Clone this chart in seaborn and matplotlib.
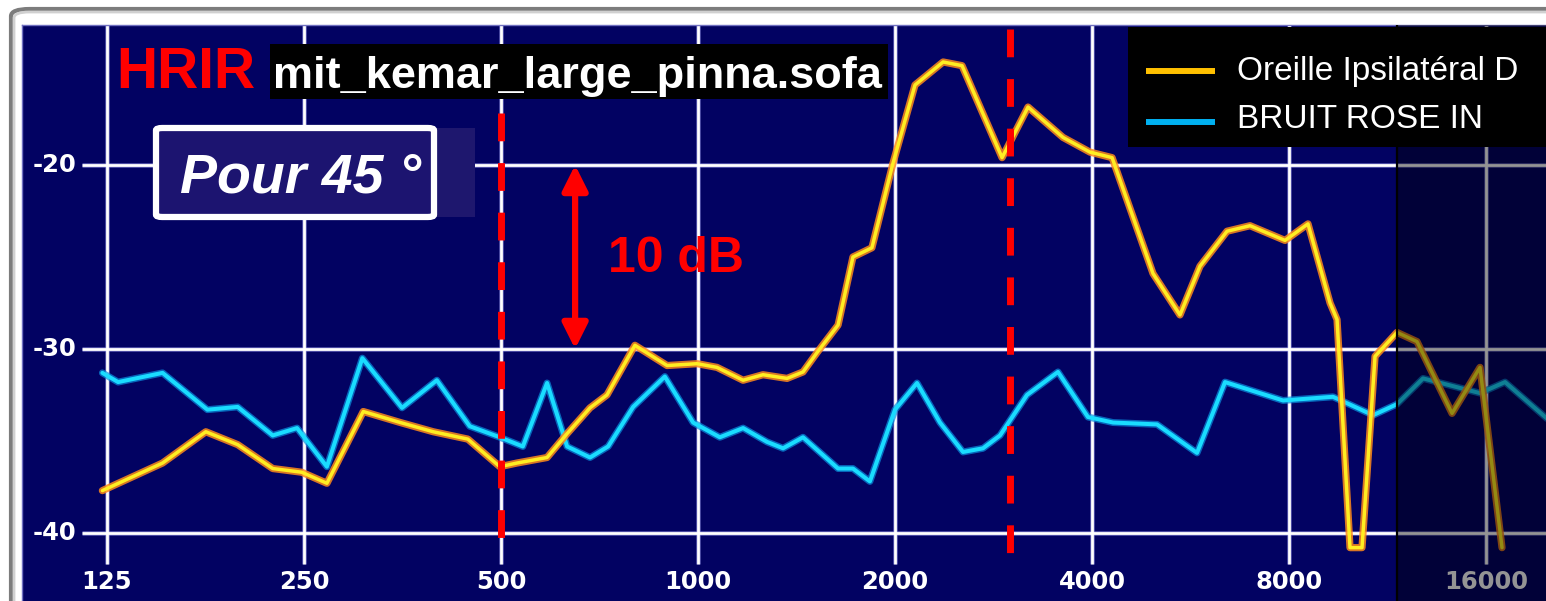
import numpy as np
import pandas as pd
import matplotlib
matplotlib.use('Agg')
import matplotlib.pyplot as plt
import seaborn as sns
from matplotlib.patches import Rectangle, FancyBboxPatch
from matplotlib.lines import Line2D

# Values (frequency in Hz, level in dB)
ipsi_freq = [123, 152, 177, 198, 224, 248, 271, 308, 351, 394, 445, 498, 529, 588,
             631, 684, 726, 801, 897, 997, 1069, 1172, 1257, 1368, 1447, 1520, 1637,
             1725, 1844, 1986, 2146, 2369, 2532, 2915, 3194, 3612, 3972, 4293, 4958,
             5451, 5849, 6433, 6975, 7889, 8553, 9243, 9473, 9915, 10343, 10828,
             11697, 12550, 14198, 15666, 16927]
ipsi_db = [-37.7, -36.2, -34.5, -35.2, -36.5, -36.7, -37.3, -33.4, -34.0, -34.5, -34.9,
           -36.4, -36.2, -35.9, -34.6, -33.2, -32.5, -29.8, -30.9, -30.8, -31.0, -31.7,
           -31.4, -31.6, -31.25, -30.2, -28.7, -25.0, -24.5, -19.9, -15.65, -14.4,
           -14.6, -19.6, -16.85, -18.5, -19.3, -19.6, -25.9, -28.15, -25.5, -23.6,
           -23.3, -24.1, -23.2, -27.5, -28.4, -40.8, -40.8, -30.4, -29.1, -29.6,
           -33.5, -31.0, -40.8]

noise_freq = [123, 130, 152, 178, 198, 224, 244, 271, 307, 353, 399, 448, 498, 540,
              588, 631, 684, 729, 796, 890, 983, 1080, 1172, 1275, 1349, 1447, 1637,
              1725, 1831, 2000, 2161, 2343, 2541, 2726, 2894, 3182, 3549, 3944, 4308,
              5028, 5788, 6388, 7833, 9340, 10752, 11697, 12820, 15666, 17109, 20760]
noise_db = [-31.3, -31.8, -31.3, -33.3, -33.15, -34.7, -34.3, -36.4, -30.5, -33.2,
            -31.7, -34.2, -34.8, -35.3, -31.85, -35.3, -35.9, -35.3, -33.15, -31.5,
            -34.0, -34.8, -34.3, -35.05, -35.4, -34.8, -36.5, -36.5, -37.2, -33.3,
            -31.85, -34.0, -35.6, -35.4, -34.7, -32.5, -31.25, -33.7, -34.0, -34.1,
            -35.65, -31.8, -32.8, -32.6, -33.6, -33.0, -31.6, -32.4, -31.8, -34.4]

xtick_values = [125, 250, 500, 1000, 2000, 4000, 8000, 16000]
ytick_values = [-20, -30, -40]
marker_freqs = [500, 3000]
series_labels = ['Oreille Ipsilatéral D', 'BRUIT ROSE IN']

sns.set_theme(style='white')
plt.rcParams['font.family'] = ['Liberation Sans', 'DejaVu Sans']

W, H = 1546, 601
NAVY = '#020262'


def px(x, y):
    """pixel position in the picture -> figure fraction"""
    return x / W, 1 - y / H


fig = plt.figure(figsize=(W / 100, H / 100), dpi=100, facecolor='white')
ax = fig.add_axes([22 / W, 0, (W - 22) / W, (H - 25) / H])
ax.set_facecolor(NAVY)
ax.set_xscale('log', base=2)
ax.set_xlim(92.7, 19760)
ax.set_ylim(-43.70, -12.39)
ax.set_xticks([])
ax.set_yticks([])
ax.minorticks_off()
for side, sp in ax.spines.items():
    sp.set_visible(side in ('top', 'left'))
    sp.set_color('#7070c0')
    sp.set_linewidth(1)

# grid (with a faint halo like the screenshot)
for lw, col, a in [(3.6, '#9090e0', 0.5), (2.0, 'white', 1.0)]:
    ax.hlines(ytick_values, 114.6, 30000, color=col, lw=lw, alpha=a, zorder=1)
    ax.vlines(xtick_values, -41.7, -12, color=col, lw=lw, alpha=a, zorder=1)

for f in xtick_values:
    ax.text(f, -42.66, str(f), ha='center', va='center', color='white',
            fontsize=17.5, fontweight='bold', family='DejaVu Sans', zorder=3)
for v in ytick_values:
    ax.text(0.0354, v, str(v), transform=ax.get_yaxis_transform(), ha='right',
            va='center', color='white', fontsize=17.5, fontweight='bold',
            family='DejaVu Sans', zorder=3)

# curves, drawn twice for the glow
sns.lineplot(x=noise_freq, y=noise_db, ax=ax, color='#0a8fe0', lw=5.0, alpha=0.7,
             sort=False, estimator=None, errorbar=None, zorder=3)
sns.lineplot(x=noise_freq, y=noise_db, ax=ax, color='#1adcff', lw=2.9,
             sort=False, estimator=None, errorbar=None, zorder=3.1)
sns.lineplot(x=ipsi_freq, y=ipsi_db, ax=ax, color='#ff8a1a', lw=5.2, alpha=0.85,
             sort=False, estimator=None, errorbar=None, zorder=4)
sns.lineplot(x=ipsi_freq, y=ipsi_db, ax=ax, color='#ffee22', lw=2.5,
             sort=False, estimator=None, errorbar=None, zorder=4.1)

# red dashed markers
ax.plot([marker_freqs[0]] * 2, [-17.17, -40.43], color='red', lw=5,
        dashes=(4.0, 3.14), solid_capstyle='butt', dash_capstyle='butt', zorder=5)
ax.plot([marker_freqs[1]] * 2, [-12.61, -41.30], color='red', lw=5,
        dashes=(4.0, 3.14), solid_capstyle='butt', dash_capstyle='butt', zorder=5)

# 10 dB scale arrow
ax.annotate('', xy=(649, -20), xytext=(649, -30),
            arrowprops=dict(arrowstyle='<|-|>', color='red', lw=4.5,
                            mutation_scale=38, shrinkA=0, shrinkB=0), zorder=5)
fig.text(*px(608, 272), '10 dB', color='red', fontsize=36, fontweight='bold',
         ha='left', va='baseline')

# dimmed high-frequency band
ax.axvspan(11700, 40000, color='black', alpha=0.42, lw=0, zorder=6)
ax.axvline(11700, color='black', lw=1.6, zorder=7)

# window frame
fig.patches.append(FancyBboxPatch(px(11, 700), (1700) / W, (700 - 9) / H,
                                  boxstyle='round,pad=0,rounding_size=0.012',
                                  transform=fig.transFigure, facecolor='none',
                                  edgecolor='#7c7c7c', lw=3, zorder=0.5))
fig.patches.append(FancyBboxPatch(px(14, 700), (1700) / W, (700 - 12) / H,
                                  boxstyle='round,pad=0,rounding_size=0.01',
                                  transform=fig.transFigure, facecolor='none',
                                  edgecolor='#d0d0d0', lw=2, zorder=0.5))

# title
fig.text(*px(116, 88), 'HRIR', color='red', fontsize=41, fontweight='bold',
         ha='left', va='baseline')
x0, y0 = px(270, 99)
fig.patches.append(Rectangle((x0, y0), (888 - 270) / W, (99 - 44) / H,
                             transform=fig.transFigure, facecolor='black',
                             edgecolor='none', zorder=2))
fig.text(*px(273, 88), 'mit_kemar_large_pinna.sofa', color='white', fontsize=32.5,
         fontweight='bold', ha='left', va='baseline', zorder=3)

# "Pour 45°" box
x0, y0 = px(430, 217)
fig.patches.append(Rectangle((x0, y0), (475 - 430) / W, (217 - 128) / H,
                             transform=fig.transFigure, facecolor='#1e176e',
                             edgecolor='none', zorder=2))
x0, y0 = px(156, 217)
fig.patches.append(FancyBboxPatch((x0, y0), (434 - 156) / W, (217 - 128) / H,
                                  boxstyle='round,pad=0,rounding_size=0.004',
                                  transform=fig.transFigure, facecolor='#1c1470',
                                  edgecolor='white', lw=4.5, zorder=2.1))
fig.text(*px(180, 193), 'Pour 45 °', color='white', fontsize=40, fontweight='bold',
         fontstyle='italic', ha='left', va='baseline', zorder=3)

# legend
x0, y0 = px(1128, 147)
fig.patches.append(Rectangle((x0, y0), (W - 1128 + 5) / W, (147 - 27) / H,
                             transform=fig.transFigure, facecolor='black',
                             edgecolor='none', zorder=2))
for (ly, base), col, lab in zip([(71, 80), (122, 128)], ['#ffc000', '#00b0f0'],
                                series_labels):
    xa, ya = px(1146, ly)
    xb, _ = px(1215, ly)
    fig.lines.append(Line2D([xa, xb], [ya, ya], transform=fig.transFigure,
                            color=col, lw=4.3, solid_capstyle='butt', zorder=3))
    fig.text(*px(1237, base), lab, color='white', fontsize=24, ha='left',
             va='baseline', zorder=3)

fig.savefig('out.png', dpi=100, facecolor='white')
